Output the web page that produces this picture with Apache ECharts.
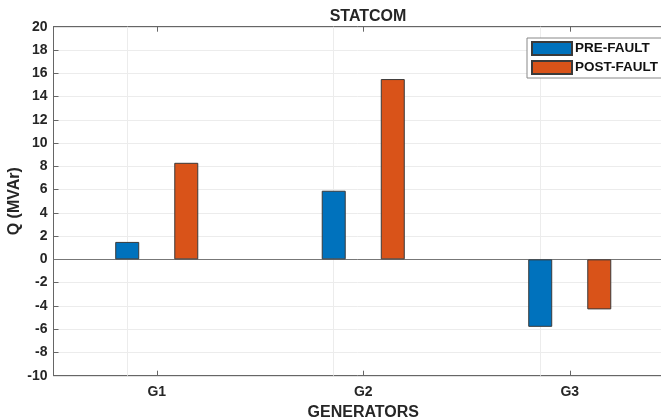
<!DOCTYPE html>
<html>
<head>
<meta charset="utf-8">
<script src="https://cdn.jsdelivr.net/npm/echarts@6/dist/echarts.min.js"></script>
<style>
  html, body { margin: 0; padding: 0; background: #fff; overflow: hidden; }
  #chart { width: 661px; height: 419px; }
</style>
</head>
<body>
<div id="chart"></div>
<script>
// Reactive power per generator, before and after the fault
const generators = ['G1', 'G2', 'G3'];
const preFault = [1.5, 5.9, -5.8];
const postFault = [8.3, 15.5, -4.3];
const yTicks = { min: -10, max: 20, step: 2 };

const axisColor = '#666';
const textColor = '#262626';
const gridColor = '#ececec';
const font = 'Liberation Sans, Arial, sans-serif';

const chart = echarts.init(document.getElementById('chart'), null, { renderer: 'canvas', width: 661, height: 419 });

chart.setOption({
  animation: false,
  backgroundColor: '#fff',
  textStyle: { fontFamily: font },
  title: {
    text: 'STATCOM',
    left: 363,
    top: 4,
    textAlign: 'center',
    textStyle: { fontSize: 16, fontWeight: 'bold', color: textColor, fontFamily: font }
  },
  grid: {
    left: 53.5, top: 26.7, width: 619.5, height: 349,
    containLabel: false,
    outerBoundsMode: 'none',
    show: true, borderColor: axisColor, borderWidth: 1, backgroundColor: 'transparent'
  },
  legend: {
    orient: 'vertical',
    left: 527,
    top: 38,
    icon: 'rect',
    itemWidth: 40,
    itemHeight: 13,
    itemGap: 4,
    padding: [3, 10, 3, 4],
    borderColor: '#888',
    borderWidth: 1,
    backgroundColor: '#fff',
    textStyle: { fontSize: 13.5, fontWeight: 'bold', color: '#111', fontFamily: font, padding: [0, 0, 0, -2] },
    data: ['PRE-FAULT', 'POST-FAULT']
  },
  xAxis: [
    {
      type: 'category',
      data: generators,
      position: 'bottom',
      name: 'GENERATORS',
      nameLocation: 'middle',
      nameGap: 29,
      nameMoveOverlap: false,
      nameTextStyle: { fontSize: 16, fontWeight: 'bold', color: textColor, fontFamily: font },
      axisLine: { show: true, onZero: false, lineStyle: { color: axisColor } },
      axisTick: { show: true, inside: true, alignWithLabel: true, length: 5, lineStyle: { color: axisColor } },
      axisLabel: { fontSize: 14, fontWeight: 'bold', color: textColor, margin: 9, fontFamily: font },
      splitLine: { show: false }
    },
    {
      type: 'category',
      data: generators,
      position: 'top',
      axisLine: { show: true, onZero: false, lineStyle: { color: axisColor } },
      axisTick: { show: true, inside: true, alignWithLabel: true, length: 5, lineStyle: { color: axisColor } },
      axisLabel: { show: false },
      splitLine: { show: false }
    }
  ],
  yAxis: {
    type: 'value',
    min: yTicks.min,
    max: yTicks.max,
    interval: yTicks.step,
    name: 'Q (MVAr)',
    nameLocation: 'middle',
    nameGap: 31,
    nameMoveOverlap: false,
    nameTextStyle: { fontSize: 16, fontWeight: 'bold', color: textColor, fontFamily: font },
    axisLine: { show: true, lineStyle: { color: axisColor } },
    axisTick: { show: true, inside: true, length: 5, lineStyle: { color: axisColor } },
    axisLabel: { fontSize: 14, fontWeight: 'bold', color: textColor, margin: 6, fontFamily: font },
    splitLine: { show: true, lineStyle: { color: gridColor, width: 1 } }
  },
  series: [
    {
      name: 'PRE-FAULT',
      type: 'bar',
      data: preFault,
      barWidth: 24,
      barGap: '146%',
      itemStyle: { color: '#0072BD', borderColor: '#3a3a3a', borderWidth: 1 },
      markLine: {
        silent: true,
        symbol: 'none',
        label: { show: false },
        z: 1,
        data: generators.map(g => ({ xAxis: g, lineStyle: { color: gridColor, width: 1, type: 'solid' } }))
          .concat([{ yAxis: 0, lineStyle: { color: '#777', width: 1, type: 'solid' } }])
      }
    },
    {
      name: 'POST-FAULT',
      type: 'bar',
      data: postFault,
      barWidth: 24,
      barGap: '146%',
      itemStyle: { color: '#D95319', borderColor: '#3a3a3a', borderWidth: 1 }
    }
  ]
});
</script>
</body>
</html>
